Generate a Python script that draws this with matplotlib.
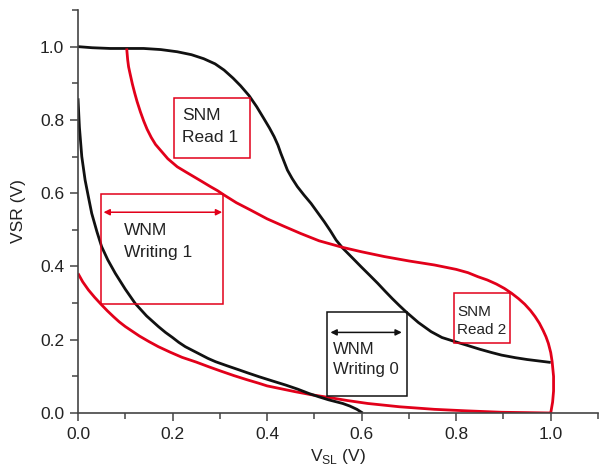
import matplotlib
matplotlib.use("Agg")
import matplotlib.pyplot as plt
from matplotlib.patches import Rectangle
from matplotlib.ticker import MultipleLocator

plt.rcParams["font.family"] = ["Liberation Sans", "DejaVu Sans"]

RED = "#e2001a"
BLACK = "#111111"

# upper black curve (SNM read)
black_up_x = [0.0, 0.03, 0.068, 0.10, 0.139, 0.175, 0.210, 0.240, 0.266, 0.290, 0.309,
              0.328, 0.344, 0.362, 0.378, 0.393, 0.405, 0.415, 0.423, 0.429, 0.436,
              0.443, 0.453, 0.464, 0.478, 0.493, 0.507, 0.521, 0.534, 0.546, 0.560,
              0.580, 0.599, 0.617, 0.634, 0.650, 0.665, 0.680, 0.694, 0.720, 0.747,
              0.770, 0.797, 0.825, 0.850, 0.875, 0.896, 0.925, 0.950, 0.975, 1.0]
black_up_y = [1.0, 0.997, 0.995, 0.995, 0.995, 0.992, 0.986, 0.978, 0.967, 0.953, 0.936,
              0.914, 0.893, 0.866, 0.836, 0.804, 0.778, 0.754, 0.731, 0.709, 0.686,
              0.663, 0.640, 0.618, 0.595, 0.572, 0.547, 0.522, 0.497, 0.472, 0.450,
              0.424, 0.399, 0.376, 0.354, 0.332, 0.312, 0.293, 0.276, 0.247, 0.222,
              0.206, 0.195, 0.184, 0.174, 0.165, 0.158, 0.151, 0.146, 0.142, 0.138]

# upper red curve (SNM read)
red_up_x = [0.103, 0.105, 0.107, 0.110, 0.115, 0.120, 0.125, 0.132, 0.139, 0.146, 0.155,
            0.164, 0.174, 0.190, 0.210, 0.228, 0.245, 0.262, 0.280, 0.295, 0.309, 0.335,
            0.365, 0.400, 0.435, 0.471, 0.510, 0.560, 0.600, 0.648, 0.700, 0.754, 0.800,
            0.825, 0.846, 0.866, 0.885, 0.902, 0.917, 0.932, 0.945, 0.957, 0.967, 0.976,
            0.984, 0.990, 0.995, 1.000, 1.003, 1.006, 1.006, 1.004, 1.0]
red_up_y = [0.995, 0.965, 0.945, 0.927, 0.898, 0.873, 0.850, 0.822, 0.797, 0.775, 0.752,
            0.733, 0.718, 0.694, 0.672, 0.658, 0.645, 0.632, 0.618, 0.607, 0.595, 0.574,
            0.554, 0.530, 0.510, 0.490, 0.470, 0.452, 0.440, 0.427, 0.415, 0.404, 0.392,
            0.383, 0.372, 0.363, 0.352, 0.340, 0.327, 0.312, 0.297, 0.280, 0.263, 0.245,
            0.225, 0.208, 0.190, 0.165, 0.140, 0.100, 0.060, 0.030, 0.0]

# lower red curve (writing)
red_low_x = [1.0, 0.95, 0.896, 0.82, 0.754, 0.68, 0.613, 0.570, 0.528, 0.493, 0.46, 0.43,
             0.40, 0.383, 0.357, 0.33, 0.303, 0.277, 0.250, 0.22, 0.195, 0.170, 0.150,
             0.13, 0.115, 0.100, 0.087, 0.075, 0.062, 0.050, 0.035, 0.022, 0.010, 0.0]
red_low_y = [0.0, 0.001, 0.002, 0.006, 0.010, 0.017, 0.026, 0.034, 0.043, 0.050, 0.058,
             0.066, 0.074, 0.081, 0.091, 0.102, 0.114, 0.126, 0.139, 0.152, 0.166, 0.181,
             0.195, 0.210, 0.223, 0.236, 0.249, 0.263, 0.279, 0.295, 0.316, 0.336, 0.358,
             0.381]

# lower black curve (writing)
black_low_x = [0.0, 0.003, 0.008, 0.015, 0.022, 0.029, 0.040, 0.050, 0.063, 0.079, 0.100,
               0.121, 0.145, 0.170, 0.185, 0.200, 0.213, 0.227, 0.245, 0.260, 0.275,
               0.291, 0.315, 0.340, 0.360, 0.383, 0.410, 0.440, 0.465, 0.489, 0.510,
               0.530, 0.545, 0.560, 0.575, 0.590, 0.602]
black_low_y = [0.859, 0.780, 0.700, 0.636, 0.590, 0.545, 0.495, 0.454, 0.418, 0.381, 0.338,
               0.299, 0.265, 0.236, 0.220, 0.206, 0.193, 0.181, 0.169, 0.159, 0.149,
               0.140, 0.129, 0.118, 0.109, 0.099, 0.088, 0.076, 0.065, 0.053, 0.044,
               0.036, 0.031, 0.026, 0.019, 0.010, 0.0]

ticks = [0.0, 0.2, 0.4, 0.6, 0.8, 1.0]
tick_labels = ["0.0", "0.2", "0.4", "0.6", "0.8", "1.0"]

fig = plt.figure(figsize=(5.99, 4.69), dpi=100)
ax = fig.add_axes([78 / 599, 1 - 413 / 469, 520 / 599, 403 / 469])

lw = 2.0
for xs, ys, c in [(black_up_x, black_up_y, BLACK), (red_up_x, red_up_y, RED),
                  (red_low_x, red_low_y, RED), (black_low_x, black_low_y, BLACK)]:
    ax.plot(xs, ys, color=c, lw=lw, solid_capstyle="butt", solid_joinstyle="round")


# annotation boxes
def box(x0, y0, x1, y1, color):
    ax.add_patch(Rectangle((x0, y0), x1 - x0, y1 - y0, fill=False,
                           edgecolor=color, lw=1.1, zorder=3))


def arrow(x0, x1, y, color):
    ax.annotate("", xy=(x1, y), xytext=(x0, y),
                arrowprops=dict(arrowstyle="<|-|>", color=color, lw=1.1,
                                mutation_scale=9, shrinkA=0, shrinkB=0))


box(0.204, 0.697, 0.363, 0.860, RED)
ax.text(0.220, 0.800, "SNM", fontsize=12.5, color="#222222")
ax.text(0.220, 0.740, "Read 1", fontsize=12.5, color="#222222")

box(0.048, 0.297, 0.307, 0.598, RED)
arrow(0.054, 0.305, 0.548, RED)
ax.text(0.098, 0.486, "WNM", fontsize=12.5, color="#222222")
ax.text(0.098, 0.427, "Writing 1", fontsize=12.5, color="#222222")

box(0.527, 0.047, 0.696, 0.275, BLACK)
arrow(0.534, 0.685, 0.220, BLACK)
ax.text(0.540, 0.161, "WNM", fontsize=12, color="#222222")
ax.text(0.540, 0.106, "Writing 0", fontsize=12, color="#222222")

box(0.796, 0.190, 0.914, 0.328, RED)
ax.text(0.802, 0.266, "SNM", fontsize=11, color="#222222")
ax.text(0.802, 0.216, "Read 2", fontsize=11, color="#222222")

ax.set_xlim(0, 1.1)
ax.set_ylim(0, 1.1)
ax.set_xticks(ticks)
ax.set_xticklabels(tick_labels)
ax.set_yticks(ticks)
ax.set_yticklabels(tick_labels)
ax.xaxis.set_minor_locator(MultipleLocator(0.1))
ax.yaxis.set_minor_locator(MultipleLocator(0.1))

for side in ["top", "right"]:
    ax.spines[side].set_visible(False)
for side in ["left", "bottom"]:
    ax.spines[side].set_color("#444444")
    ax.spines[side].set_linewidth(1.2)

ax.tick_params(which="major", direction="out", length=6, width=1.1, color="#444444",
               labelsize=12.5, labelcolor="#222222", pad=4)
ax.tick_params(which="minor", direction="out", length=4, width=1.1, color="#444444")

ax.set_xlabel(r"V$_{\mathregular{SL}}$ (V)", fontsize=12.5, color="#222222", labelpad=4)
ax.set_ylabel("VSR (V)", fontsize=12.5, color="#222222", labelpad=10)

fig.savefig("out.png", dpi=100)
